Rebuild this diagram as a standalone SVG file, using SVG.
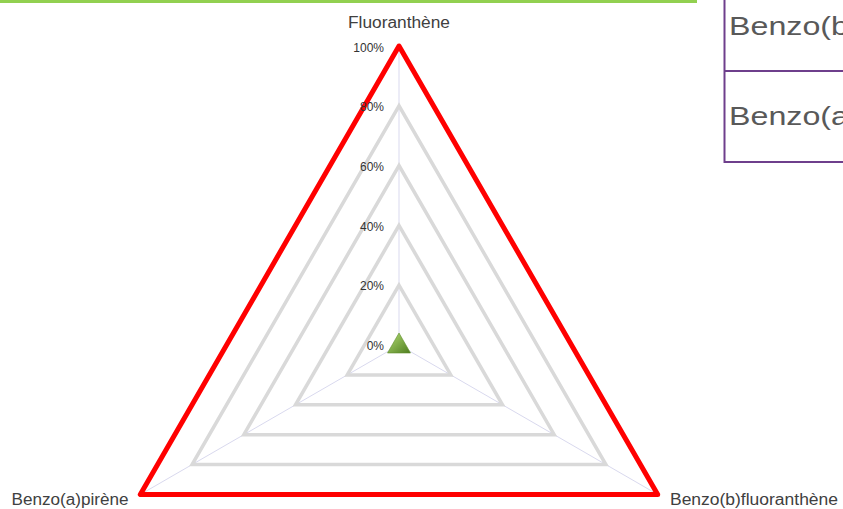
<svg xmlns="http://www.w3.org/2000/svg" width="843" height="509" viewBox="0 0 843 509">
<defs>
<style>
.grid{fill:none;stroke:#d9d9d9;stroke-width:3.5;stroke-linejoin:miter}
.spoke{stroke:#d9d9ee;stroke-width:1}
.tick{font-family:"Liberation Sans",Arial,sans-serif;font-size:12px;fill:#333333;text-anchor:end}
.cat{font-family:"Liberation Sans",Arial,sans-serif;font-size:16px;fill:#404040}
.tbl{font-family:"Liberation Sans",Arial,sans-serif;font-size:25.5px;fill:#595959}
</style>
<linearGradient id="gt" x1="0" y1="0" x2="1" y2="1">
<stop offset="0" stop-color="#b3dc74"/>
<stop offset="1" stop-color="#4e7d1f"/>
</linearGradient>
</defs>
<rect width="843" height="509" fill="#ffffff"/>
<line x1="0" y1="1.5" x2="697" y2="1.5" stroke="#92d050" stroke-width="3"/>
<g id="table">
<line x1="724.5" y1="0" x2="724.5" y2="163" stroke="#6e3f8c" stroke-width="2"/>
<line x1="724" y1="71" x2="843" y2="71" stroke="#6e3f8c" stroke-width="2"/>
<line x1="724" y1="162" x2="843" y2="162" stroke="#6e3f8c" stroke-width="2"/>
<text class="tbl" x="729" y="35" textLength="120" lengthAdjust="spacingAndGlyphs">Benzo(b</text>
<text class="tbl" x="729" y="125" textLength="120" lengthAdjust="spacingAndGlyphs">Benzo(a</text>
</g>
<g id="connectors">
<line class="spoke" x1="399" y1="345" x2="399" y2="46"/>
<line class="spoke" x1="399" y1="345" x2="140.3" y2="494.5"/>
<line class="spoke" x1="399" y1="345" x2="657.7" y2="494.5"/>
</g>
<g id="grid">
<polygon class="grid" points="399,285.2 347.2,374.9 450.8,374.9"/>
<polygon class="grid" points="399,225.4 295.5,404.8 502.5,404.8"/>
<polygon class="grid" points="399,165.6 243.8,434.7 554.2,434.7"/>
<polygon class="grid" points="399,105.8 192.1,464.6 605.9,464.6"/>
</g>
<g id="series">
<polygon points="399,46 140.3,494.5 657.7,494.5" fill="none" stroke="#ff0000" stroke-width="5" stroke-linejoin="round"/>
</g>
<g id="marker">
<polygon points="399,333 387.5,353 410.5,353" fill="url(#gt)" stroke="#5f8f2a" stroke-width="0.6"/>
</g>
<g id="ticks">
<text class="tick" x="384" y="51.5">100%</text>
<text class="tick" x="384" y="111">80%</text>
<text class="tick" x="384" y="171">60%</text>
<text class="tick" x="384" y="230.5">40%</text>
<text class="tick" x="384" y="290">20%</text>
<text class="tick" x="384" y="349.5">0%</text>
</g>
<g id="label-top"><text class="cat" x="348" y="28" textLength="102" lengthAdjust="spacingAndGlyphs">Fluoranthène</text></g>
<g id="label-left"><text class="cat" x="11.5" y="505" textLength="117" lengthAdjust="spacingAndGlyphs">Benzo(a)pirène</text></g>
<g id="label-right"><text class="cat" x="670" y="505" textLength="168" lengthAdjust="spacingAndGlyphs">Benzo(b)fluoranthène</text></g>
</svg>
